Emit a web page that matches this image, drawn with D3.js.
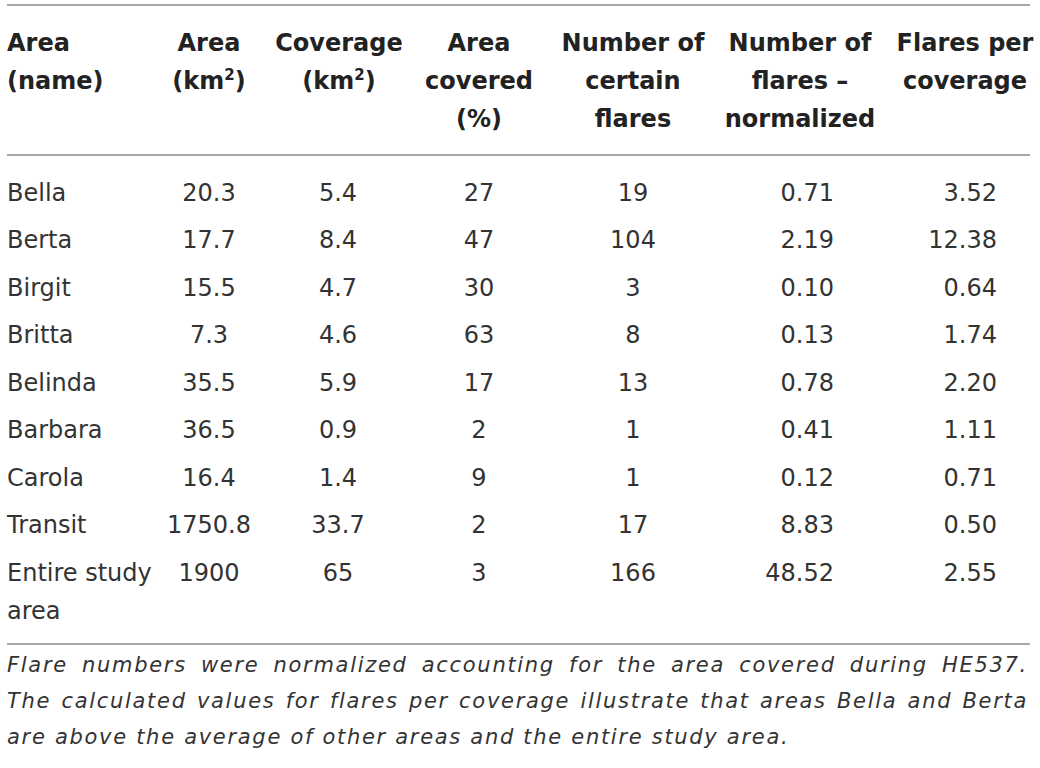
<!DOCTYPE html>
<html>
<head>
<meta charset="utf-8">
<script src="https://cdn.jsdelivr.net/npm/d3@7"></script>
<style>
  body { margin: 0; background: #fff; }
  svg { display: block; }
</style>
</head>
<body>
<svg id="chart" width="1040" height="768"></svg>
<script>
// table data
var areaNames = ["Bella", "Berta", "Birgit", "Britta", "Belinda", "Barbara", "Carola", "Transit", "Entire study area"];
var areaKm2 = [20.3, 17.7, 15.5, 7.3, 35.5, 36.5, 16.4, 1750.8, 1900];
var coverageKm2 = [5.4, 8.4, 4.7, 4.6, 5.9, 0.9, 1.4, 33.7, 65];
var areaCoveredPct = [27, 47, 30, 63, 17, 2, 9, 2, 3];
var certainFlares = [19, 104, 3, 8, 13, 1, 1, 17, 166];
var flaresNormalized = [0.71, 2.19, 0.10, 0.13, 0.78, 0.41, 0.12, 8.83, 48.52];
var flaresPerCoverage = [3.52, 12.38, 0.64, 1.74, 2.20, 1.11, 0.71, 0.50, 2.55];

var headers = [
  ["Area", "(name)"],
  ["Area", "(km|2|)"],
  ["Coverage", "(km|2|)"],
  ["Area", "covered", "(%)"],
  ["Number of", "certain", "flares"],
  ["Number of", "flares \u2013", "normalized"],
  ["Flares per", "coverage"]
];

var captionLines = [
  "Flare numbers were normalized accounting for the area covered during HE537.",
  "The calculated values for flares per coverage illustrate that areas Bella and Berta",
  "are above the average of other areas and the entire study area."
];

var svg = d3.select("#chart");
var left = 7, right = 1030;
var fontFam = "'DejaVu Sans', Verdana, sans-serif";
var ink = "#222";

function oneDec(v) { return Number.isInteger(v) ? String(v) : v.toFixed(1); }
var f2 = d3.format(".2f");

// columns: values, header x, value x, value anchor
var columns = [
  { vals: areaNames, hx: left, ha: "start", vx: left, va: "start", fmt: String },
  { vals: areaKm2, hx: 209, ha: "middle", vx: 209, va: "middle", fmt: oneDec },
  { vals: coverageKm2, hx: 339, ha: "middle", vx: 338, va: "middle", fmt: oneDec },
  { vals: areaCoveredPct, hx: 479, ha: "middle", vx: 479, va: "middle", fmt: String },
  { vals: certainFlares, hx: 633, ha: "middle", vx: 633, va: "middle", fmt: String },
  { vals: flaresNormalized, hx: 800, ha: "middle", vx: 834, va: "end", fmt: f2 },
  { vals: flaresPerCoverage, hx: 965, ha: "middle", vx: 997, va: "end", fmt: f2 }
];

var y = d3.scaleLinear().domain([0, areaNames.length - 1]).range([200.5, 580.5]);

// rules
[5, 155, 644].forEach(function(ry) {
  svg.append("line")
    .attr("x1", left).attr("x2", right)
    .attr("y1", ry).attr("y2", ry)
    .attr("stroke", "#8a8a8a").attr("stroke-width", 1.5);
});

// header
var head = svg.append("g");
columns.forEach(function(c, ci) {
  headers[ci].forEach(function(line, li) {
    var t = head.append("text")
      .attr("x", c.hx).attr("y", 51 + li * 38)
      .attr("text-anchor", c.ha)
      .style("font-family", fontFam)
      .style("font-weight", "bold")
      .style("font-size", "24px")
      .attr("fill", ink);
    line.split("|").forEach(function(part, pi) {
      if (pi % 2 == 1) {
        t.append("tspan").attr("dy", -9).style("font-size", "15px").text(part);
      } else if (pi > 0) {
        t.append("tspan").attr("dy", 9).text(part);
      } else {
        t.append("tspan").text(part);
      }
    });
  });
});

// body
var body = svg.append("g");
columns.forEach(function(c, ci) {
  body.selectAll("text.c" + ci)
    .data(c.vals)
    .join("text")
    .attr("class", "c" + ci)
    .attr("x", c.vx)
    .attr("y", function(d, i) { return y(i); })
    .attr("text-anchor", c.va)
    .style("font-family", fontFam)
    .style("font-size", "24px")
    .attr("fill", "#333")
    .each(function(d) {
      var el = d3.select(this);
      if (ci > 0) { el.text(c.fmt(d)); return; }
      // wrap long names
      var words = String(d).split(" "), line = [], tspan = el.append("tspan").attr("x", c.vx);
      words.forEach(function(w) {
        line.push(w);
        tspan.text(line.join(" "));
        if (tspan.node().getComputedTextLength() > 160 && line.length > 1) {
          line.pop();
          tspan.text(line.join(" "));
          line = [w];
          tspan = el.append("tspan").attr("x", c.vx).attr("dy", 38).text(w);
        }
      });
    });
});

// caption, justified
var capG = svg.append("g")
  .style("font-family", fontFam)
  .style("font-style", "italic")
  .style("font-size", "21px")
  .style("letter-spacing", "1.7px")
  .attr("fill", "#333");

var measure = capG.append("text");
function textW(s) { measure.text(s); return measure.node().getComputedTextLength(); }
var spaceW = textW("a a") - textW("aa");
var width = right - 2 - left;

captionLines.forEach(function(line, li) {
  var ws = line.split(" ");
  var wl = ws.map(textW);
  var gap = spaceW;
  if (li < captionLines.length - 1) gap = Math.max(spaceW * 0.6, (width - d3.sum(wl)) / (ws.length - 1));
  var x = left;
  ws.forEach(function(w, wi) {
    capG.append("text").attr("x", x).attr("y", 672 + li * 36).text(w);
    x += wl[wi] + gap;
  });
});
measure.remove();
</script>
</body>
</html>
